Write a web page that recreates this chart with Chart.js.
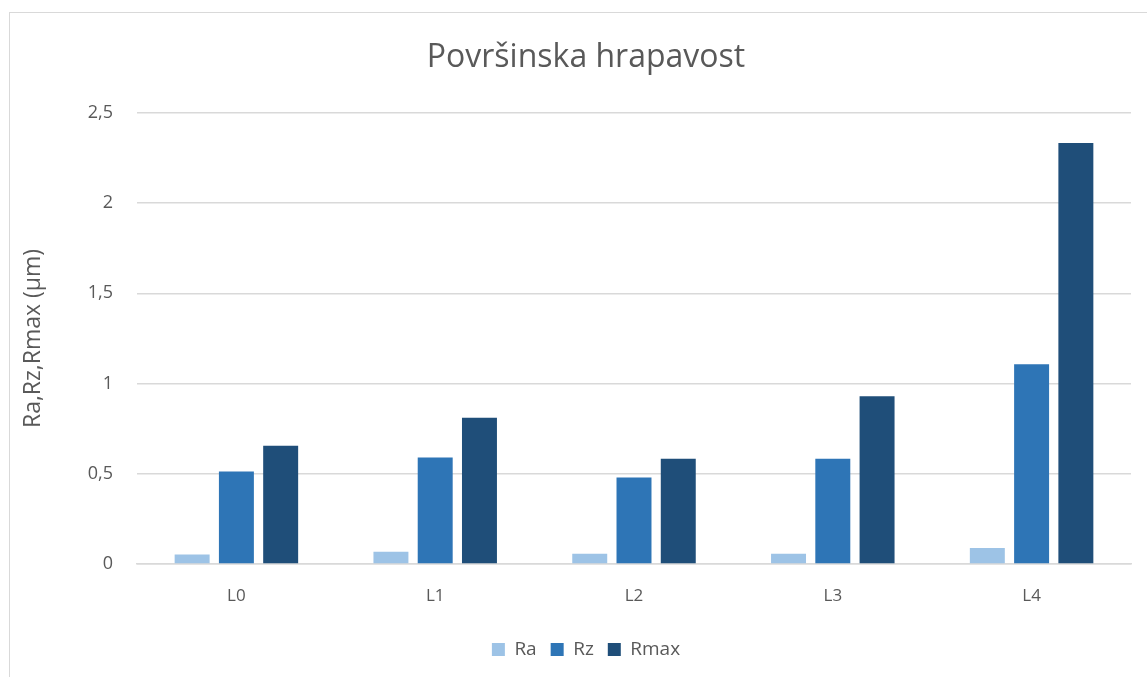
<!DOCTYPE html>
<html>
<head>
<meta charset="utf-8">
<script src="https://cdn.jsdelivr.net/npm/chart.js@4.4.0/dist/chart.umd.min.js"></script>
<style>
    body { margin: 0; background: #fff; overflow: hidden; }
    #wrap { position: relative; width: 1147px; height: 677px; overflow: hidden; }
    #frame {
        position: absolute; left: 9px; top: 12px; width: 1150px; height: 700px;
        border: 1px solid #d9d9d9; pointer-events: none;
    }
</style>
</head>
<body>
<div id="wrap">
    <canvas id="chart" width="1172" height="677"></canvas>
    <div id="frame"></div>
</div>
<script>
const categories = ['L0', 'L1', 'L2', 'L3', 'L4'];
const raValues = [0.053, 0.068, 0.057, 0.057, 0.089];
const rzValues = [0.513, 0.59, 0.479, 0.583, 1.107];
const rmaxValues = [0.655, 0.811, 0.583, 0.929, 2.333];

const textColor = '#595959';
const fontFamily = "'Open Sans', 'Noto Sans', sans-serif";

const ctx = document.getElementById('chart').getContext('2d');

// canvas is wider than the window so the title and legend centre on the chart frame
new Chart(ctx, {
    type: 'bar',
    data: {
        labels: categories,
        datasets: [
            { label: 'Ra', data: raValues, backgroundColor: '#9dc3e6' },
            { label: 'Rz', data: rzValues, backgroundColor: '#2e75b6' },
            { label: 'Rmax', data: rmaxValues, backgroundColor: '#1f4e79' }
        ]
    },
    options: {
        responsive: false,
        animation: false,
        categoryPercentage: 0.668,
        barPercentage: 0.79,
        layout: { padding: { left: 0, right: 0, top: 0, bottom: 8 } },
        plugins: {
            title: {
                display: true,
                text: 'Površinska hrapavost',
                color: textColor,
                font: { family: fontFamily, size: 32, weight: 'normal' },
                padding: { top: 39, bottom: 35.5 }
            },
            legend: {
                position: 'bottom',
                labels: {
                    color: textColor,
                    font: { family: fontFamily, size: 19 },
                    boxWidth: 13,
                    boxHeight: 13,
                    padding: 14
                }
            },
            tooltip: { enabled: false }
        },
        scales: {
            x: {
                grid: { display: false, drawTicks: false },
                border: { display: true, color: '#d9d9d9', width: 1.5 },
                ticks: { color: textColor, font: { family: fontFamily, size: 17 }, padding: 22 },
                afterFit: function (scale) { scale.height = 62; }
            },
            y: {
                min: 0,
                max: 2.5,
                ticks: {
                    stepSize: 0.5,
                    color: textColor,
                    font: { family: fontFamily, size: 18 },
                    padding: 24,
                    callback: function (value) {
                        return String(value).replace('.', ',');
                    }
                },
                grid: { color: '#d9d9d9', lineWidth: 1.5, drawTicks: false },
                border: { display: false },
                title: {
                    display: true,
                    text: 'Ra,Rz,Rmax (µm)',
                    color: textColor,
                    font: { family: fontFamily, size: 23 },
                    padding: { top: 20, bottom: 0 }
                },
                afterFit: function (scale) { scale.width = 137; }
            },
            // empty right axis, only reserves the space right of the plot
            yRight: {
                axis: 'y',
                type: 'linear',
                position: 'right',
                grid: { display: false, drawTicks: false },
                border: { display: false },
                ticks: { display: false },
                afterFit: function (scale) { scale.width = 41; }
            }
        }
    }
});
</script>
</body>
</html>
